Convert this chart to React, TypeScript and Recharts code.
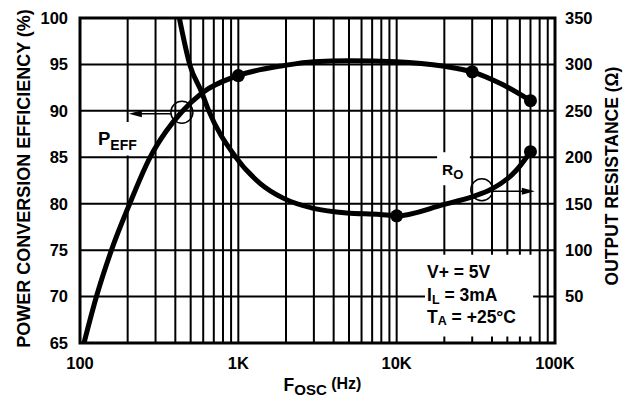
import React from 'react';
import {
  ComposedChart, Line, Scatter, XAxis, YAxis, CartesianGrid,
  ReferenceArea, ReferenceDot,
} from 'recharts';

// ---- data ----
const freqTicks = [
  100, 200, 300, 400, 500, 600, 700, 800, 900,
  1000, 2000, 3000, 4000, 5000, 6000, 7000, 8000, 9000,
  10000, 20000, 30000, 40000, 50000, 60000, 70000, 80000, 90000, 100000,
];
const freqLabels: Record<number, string> = { 100: '100', 1000: '1K', 10000: '10K', 100000: '100K' };
const effTicks = [65, 70, 75, 80, 85, 90, 95, 100];
const resTicks = [50, 100, 150, 200, 250, 300, 350];

const effFreq = [106, 127, 158, 206, 277, 350, 440, 587, 1000, 1970, 3000, 5000, 10000, 20000, 30000, 47000, 70000];
const effValue = [65, 70, 75, 80, 85, 87.8, 89.9, 91.9, 93.8, 94.9, 95.3, 95.4, 95.3, 94.8, 94.2, 92.8, 91.1];

const resFreq = [424, 495, 587, 647, 955, 1370, 1920, 2980, 4840, 7860, 10000, 19700, 30500, 39000, 57000, 70000];
const resValue = [350, 299, 270, 251, 201, 172, 156, 145, 140, 138.5, 137, 149, 158, 165, 186, 206];

const effMarkerFreq = [1000, 30000, 70000];
const effMarkerValue = [93.8, 94.2, 91.1];
const resMarkerFreq = [10000, 70000];
const resMarkerValue = [137, 206];

const effData = effFreq.map((f, i) => ({ f, v: effValue[i] }));
const resData = resFreq.map((f, i) => ({ f, v: resValue[i] }));
const effMarkers = effMarkerFreq.map((f, i) => ({ f, v: effMarkerValue[i] }));
const resMarkers = resMarkerFreq.map((f, i) => ({ f, v: resMarkerValue[i] }));

const FONT = '"Liberation Sans", Arial, Helvetica, sans-serif';
const tickStyle = { fill: '#000', fontSize: 16.5, fontWeight: 700, fontFamily: FONT };

const XTitle = (props: any) => {
  const vb = props.viewBox || { x: 80, y: 343, width: 475, height: 30 };
  const cx = vb.x + vb.width / 2 + 5;
  const y = vb.y + 48;
  return (
    <text x={cx} y={y} textAnchor="middle" fontFamily={FONT} fontWeight={700} fill="#000">
      <tspan fontSize={17.5}>F</tspan>
      <tspan fontSize={15} dy={4}>OSC</tspan>
      <tspan fontSize={16} dy={-6}>{'\u00A0(Hz)'}</tspan>
    </text>
  );
};

const LeftTitle = (props: any) => {
  const vb = props.viewBox || { x: 30, y: 18, width: 50, height: 325 };
  const cx = vb.x - 6.5;
  const cy = 178.5;
  return (
    <text x={cx} y={cy} transform={`rotate(-90, ${cx}, ${cy})`} textAnchor="middle"
      dominantBaseline="central" fontFamily={FONT} fontWeight={700} fontSize={18} fill="#000">
      POWER CONVERSION EFFICIENCY (%)
    </text>
  );
};

const RightTitle = (props: any) => {
  const vb = props.viewBox || { x: 555, y: 18, width: 50, height: 325 };
  const cx = vb.x + 56.5;
  const cy = 176;
  return (
    <text x={cx} y={cy} transform={`rotate(-90, ${cx}, ${cy})`} textAnchor="middle"
      dominantBaseline="central" fontFamily={FONT} fontWeight={700} fontSize={17.5} fill="#000">
      OUTPUT RESISTANCE (Ω)
    </text>
  );
};

const PeffLabel = (props: any) => {
  const vb = props.viewBox;
  if (!vb) return null;
  return (
    <text x={vb.x + 14} y={vb.y + 23} fontFamily={FONT} fontWeight={700} fill="#000">
      <tspan fontSize={18.5}>P</tspan>
      <tspan fontSize={14} dy={5}>EFF</tspan>
    </text>
  );
};

const RoLabel = (props: any) => {
  const vb = props.viewBox;
  if (!vb) return null;
  return (
    <text x={vb.x + 5} y={vb.y + 23} fontFamily={FONT} fontWeight={700} fill="#000">
      <tspan fontSize={15.5}>R</tspan>
      <tspan fontSize={13} dy={4}>O</tspan>
    </text>
  );
};

const CondLabel = (props: any) => {
  const vb = props.viewBox;
  if (!vb) return null;
  const x = vb.x + 2;
  return (
    <g fontFamily={FONT} fontWeight={700} fill="#000" fontSize={17.5}>
      <text x={x} y={vb.y + 23}>V+ = 5V</text>
      <text x={x} y={vb.y + 46.5}>
        <tspan>I</tspan>
        <tspan fontSize={12.5} dy={2.5}>L</tspan>
        <tspan dy={-2.5}> = 3mA</tspan>
      </text>
      <text x={x} y={vb.y + 68}>
        <tspan>T</tspan>
        <tspan fontSize={12.5} dy={2.5}>A</tspan>
        <tspan dy={-2.5}> = +25°C</tspan>
      </text>
    </g>
  );
};

const makeCallout = (dir: number) => (props: any) => {
  const { cx, cy } = props;
  if (cx == null || cy == null) return <g />;
  const r = 11;
  const start = cx + dir * r;
  const tip = cx + dir * 53;
  const ay = cy + 1.5;
  return (
    <g>
      <circle cx={cx} cy={cy} r={r} fill="none" stroke="#000" strokeWidth={1.5} />
      <line x1={start} y1={ay} x2={tip - dir * 10} y2={ay} stroke="#000" strokeWidth={1.5} />
      <polygon points={`${tip},${ay} ${tip - dir * 13},${ay - 3.5} ${tip - dir * 13},${ay + 3.5}`} fill="#000" />
    </g>
  );
};

const MarkerDot = (props: any) => {
  const { cx, cy } = props;
  if (cx == null || cy == null) return <g />;
  return <circle cx={cx} cy={cy} r={6.5} fill="#000" />;
};

export default function App() {
  return (
    <div style={{ position: 'absolute', left: 0, top: 0, width: 630, height: 404, background: '#fff' }}>
      <ComposedChart width={630} height={404} margin={{ top: 18, right: 25, bottom: 31, left: 30 }}>
        <CartesianGrid xAxisId="x" yAxisId="left" stroke="#000" strokeWidth={2} />
        <XAxis
          xAxisId="x"
          dataKey="f"
          type="number"
          scale="log"
          domain={[100, 100000]}
          allowDataOverflow
          ticks={freqTicks}
          interval={0}
          tickFormatter={(v: number) => freqLabels[v] ?? ''}
          tickLine={false}
          axisLine={false}
          tickMargin={8}
          height={30}
          tick={tickStyle}
          label={XTitle}
        />
        <YAxis
          yAxisId="left"
          type="number"
          domain={[65, 100]}
          ticks={effTicks}
          interval={0}
          allowDataOverflow
          tickLine={false}
          axisLine={false}
          tickMargin={6}
          width={50}
          tick={tickStyle}
          label={LeftTitle}
        />
        <YAxis
          yAxisId="right"
          orientation="right"
          type="number"
          domain={[0, 350]}
          ticks={resTicks}
          interval={0}
          allowDataOverflow
          tickLine={false}
          axisLine={false}
          tickMargin={4}
          width={50}
          tick={{ ...tickStyle, textAnchor: 'start' }}
          label={RightTitle}
        />
        <ReferenceArea xAxisId="x" yAxisId="left" x1={106} x2={277} y1={85.2} y2={88.8}
          fill="#fff" fillOpacity={1} stroke="none" label={PeffLabel} />
        <ReferenceArea xAxisId="x" yAxisId="left" x1={18000} x2={29000} y1={82.0} y2={85.55}
          fill="#fff" fillOpacity={1} stroke="none" label={RoLabel} />
        <ReferenceArea xAxisId="x" yAxisId="left" x1={15100} x2={72700} y1={65.7} y2={74.5}
          fill="#fff" fillOpacity={1} stroke="none" label={CondLabel} />
        <Line xAxisId="x" yAxisId="left" data={effData} dataKey="v" type="monotone"
          stroke="#000" strokeWidth={5} dot={false} activeDot={false} isAnimationActive={false} />
        <Line xAxisId="x" yAxisId="right" data={resData} dataKey="v" type="monotone"
          stroke="#000" strokeWidth={5} dot={false} activeDot={false} isAnimationActive={false} />
        <Scatter xAxisId="x" yAxisId="left" data={effMarkers} dataKey="v" shape={MarkerDot} isAnimationActive={false} />
        <Scatter xAxisId="x" yAxisId="right" data={resMarkers} dataKey="v" shape={MarkerDot} isAnimationActive={false} />
        <ReferenceDot xAxisId="x" yAxisId="left" x={440} y={89.85} shape={makeCallout(-1)} />
        <ReferenceDot xAxisId="x" yAxisId="right" x={34500} y={165} shape={makeCallout(1)} />
        <ReferenceArea xAxisId="x" yAxisId="left" x1={100} x2={100000} y1={65} y2={100}
          fill="none" stroke="#000" strokeWidth={3} />
      </ComposedChart>
    </div>
  );
}
